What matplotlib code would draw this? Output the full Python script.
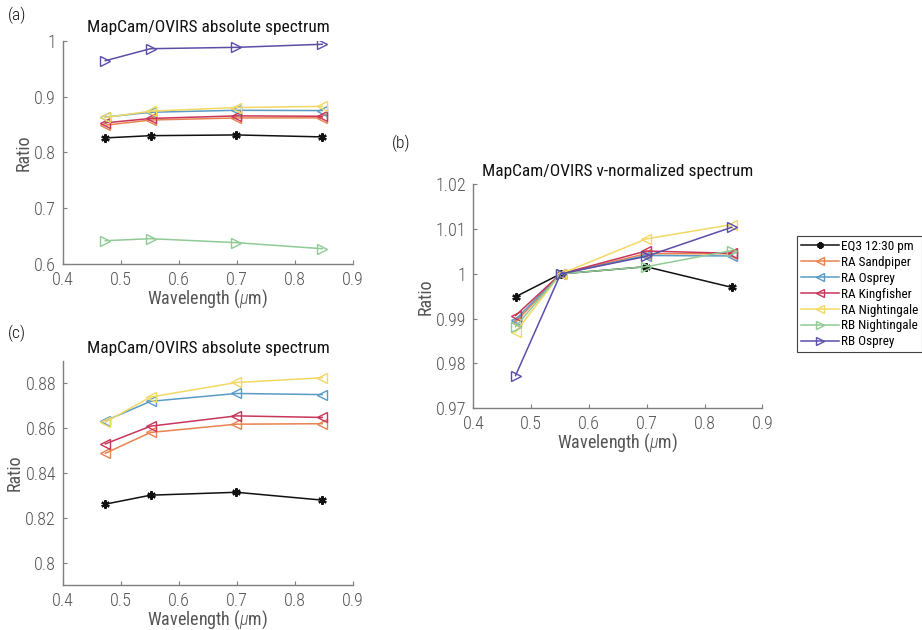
import matplotlib
matplotlib.use("Agg")
import matplotlib.pyplot as plt
from matplotlib import font_manager as fm

avail = {f.name for f in fm.fontManager.ttflist}
fam = [f for f in ["Liberation Sans Narrow", "Roboto Condensed", "Roboto", "DejaVu Sans"] if f in avail]
plt.rcParams['font.family'] = fam + ["DejaVu Sans"]
plt.rcParams['font.weight'] = 300
plt.rcParams['mathtext.fontset'] = 'custom'
plt.rcParams['mathtext.it'] = fam[0] + ':italic:light'
plt.rcParams['mathtext.rm'] = fam[0] + ':light'

# ---- data ----
wavelength = [0.473, 0.551, 0.699, 0.847]
series_names = ["EQ3 12:30 pm", "RA Sandpiper", "RA Osprey", "RA Kingfisher",
                "RA Nightingale", "RB Nightingale", "RB Osprey"]

abs_eq3 = [0.8261, 0.8301, 0.8314, 0.8279]
abs_ra_sandpiper = [0.8488, 0.8581, 0.8618, 0.8620]
abs_ra_osprey = [0.8633, 0.8720, 0.8755, 0.8750]
abs_ra_kingfisher = [0.8530, 0.8609, 0.8655, 0.8648]
abs_ra_nightingale = [0.8627, 0.8739, 0.8804, 0.8825]
abs_rb_nightingale = [0.6422, 0.6458, 0.6387, 0.6279]
abs_rb_osprey = [0.9642, 0.9857, 0.9881, 0.9936]

norm_eq3 = [0.9949, 1.0, 1.0016, 0.9970]
norm_ra_sandpiper = [0.9892, 1.0, 1.0045, 1.0045]
norm_ra_osprey = [0.9898, 1.0, 1.0041, 1.0040]
norm_ra_kingfisher = [0.9907, 1.0, 1.0051, 1.0046]
norm_ra_nightingale = [0.9870, 1.0, 1.0078, 1.0110]
norm_rb_nightingale = [0.9882, 1.0, 1.0016, 1.0052]
norm_rb_osprey = [0.9773, 1.0, 1.0039, 1.0104]

abs_all = [abs_eq3, abs_ra_sandpiper, abs_ra_osprey, abs_ra_kingfisher,
           abs_ra_nightingale, abs_rb_nightingale, abs_rb_osprey]
norm_all = [norm_eq3, norm_ra_sandpiper, norm_ra_osprey, norm_ra_kingfisher,
            norm_ra_nightingale, norm_rb_nightingale, norm_rb_osprey]

colors = ["#111111", "#E8834F", "#5A9BC6", "#C8365A", "#F2D864", "#8FCB93", "#5B4EA8"]
markers = ["*", "<", "<", "<", "<", ">", ">"]

fig = plt.figure(figsize=(9.22, 6.30), dpi=100)

ax_a = fig.add_axes([0.0683, 0.5805, 0.3145, 0.3549])
ax_c = fig.add_axes([0.0683, 0.0714, 0.3145, 0.3556])
ax_b = fig.add_axes([0.5134, 0.3519, 0.3134, 0.3556])

GRAY = "#7f7f7f"
TXT = "#555555"


def draw(ax, data_list, idxs):
    handles = []
    for i in idxs:
        c = colors[i]
        if markers[i] == "*":
            h, = ax.plot(wavelength, data_list[i], color=c, lw=1.1, marker=(6, 2, 0),
                         ms=6, mfc=c, mec=c, mew=1.6, label=series_names[i])
        else:
            h, = ax.plot(wavelength, data_list[i], color=c, lw=1.1, marker=markers[i],
                         ms=7, mfc="none", mec=c, mew=1.0, label=series_names[i])
        handles.append(h)
    return handles


def style(ax, ylim, yticks, ylabels, title):
    ax.set_xlim(0.4, 0.9)
    ax.set_ylim(*ylim)
    ax.set_xticks([0.4, 0.5, 0.6, 0.7, 0.8, 0.9])
    ax.set_xticklabels(["0.4", "0.5", "0.6", "0.7", "0.8", "0.9"])
    ax.set_yticks(yticks)
    ax.set_yticklabels(ylabels)
    for s in ["top", "right"]:
        ax.spines[s].set_visible(False)
    for s in ["left", "bottom"]:
        ax.spines[s].set_color(GRAY)
        ax.spines[s].set_linewidth(1.0)
    ax.tick_params(direction="in", length=3, width=0.8, color=GRAY,
                   labelcolor=TXT, labelsize=13)
    ax.tick_params(axis="x", pad=5)
    ax.tick_params(axis="y", pad=5)
    ax.set_xlabel(r"Wavelength ($\mu$m)", fontsize=13, color=TXT, labelpad=-1)
    ax.set_ylabel("Ratio", fontsize=13, color=TXT, labelpad=1)
    ax.set_title(title, fontsize=12.5, color="#111111", pad=6, fontweight="normal")


draw(ax_a, abs_all, range(7))
style(ax_a, (0.6, 1.0), [0.6, 0.7, 0.8, 0.9, 1.0],
      ["0.6", "0.7", "0.8", "0.9", "1"], "MapCam/OVIRS absolute spectrum")

draw(ax_c, abs_all, range(5))
style(ax_c, (0.79, 0.89), [0.8, 0.82, 0.84, 0.86, 0.88],
      ["0.8", "0.82", "0.84", "0.86", "0.88"], "MapCam/OVIRS absolute spectrum")

handles = draw(ax_b, norm_all, range(7))
style(ax_b, (0.97, 1.02), [0.97, 0.98, 0.99, 1.0, 1.01, 1.02],
      ["0.97", "0.98", "0.99", "1", "1.01", "1.02"], "MapCam/OVIRS v-normalized spectrum")

leg = fig.legend(handles=handles, loc="upper left", bbox_to_anchor=(797 / 922, 1 - 236 / 630),
                 frameon=True, fancybox=False, prop={"size": 9.5, "weight": "normal"},
                 handlelength=2.9, handletextpad=0.15, labelspacing=0.22, borderpad=0.3,
                 borderaxespad=0, markerscale=0.8)
leg.get_frame().set_edgecolor("#111111")
leg.get_frame().set_linewidth(0.8)

fig.text(8 / 922, 1 - 15 / 630, "(a)", fontsize=12.5, va="center", ha="left", color="#111111")
fig.text(8 / 922, 1 - 333 / 630, "(c)", fontsize=12.5, va="center", ha="left", color="#111111")
fig.text(392 / 922, 1 - 143 / 630, "(b)", fontsize=12.5, va="center", ha="left", color="#111111")

fig.savefig("out.png", dpi=100)
